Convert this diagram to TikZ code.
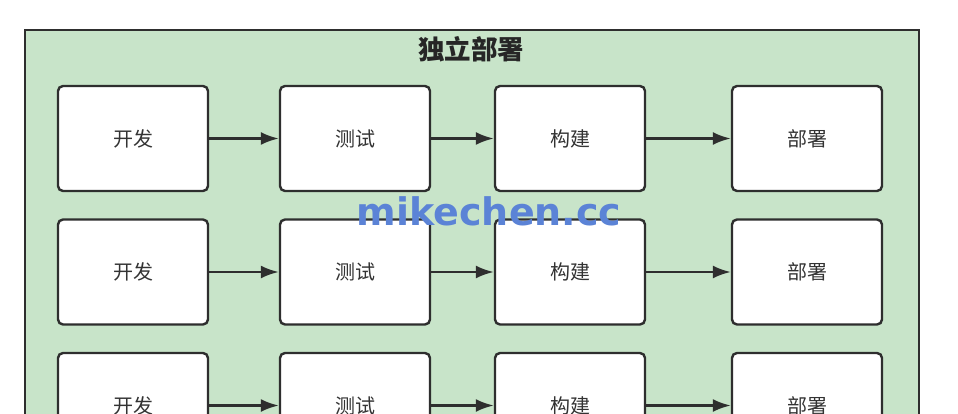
\documentclass[tikz,border=0pt]{standalone}
\usepackage{fontspec}
\usepackage{tikz}
\usetikzlibrary{arrows.meta}
\newfontfamily\cjk{Noto Sans CJK SC}
\newfontfamily\markfont{DejaVu Sans}
\definecolor{groupgreen}{HTML}{C8E4C9}
\definecolor{edgegray}{HTML}{2E2E2E}
\definecolor{markblue}{HTML}{5B83D6}
\tikzset{>={Latex[width=13pt,length=18pt]}}
\tikzset{
  stage/.style={draw=edgegray, line width=2.4pt, rounded corners=5pt, fill=white,
    minimum width=150pt, minimum height=105pt, inner sep=0pt,
    font=\cjk\fontsize{20}{20}\selectfont, text=black!80},
  flow/.style={-{Latex[width=13pt,length=18pt]}, draw=edgegray, line width=2.4pt}
}

\begin{document}
\begin{tikzpicture}[x=1pt, y=-1pt]
  \clip (0,0) rectangle (958,414);

  \newcommand\CA{133};
  \newcommand\CB{355};
  \newcommand\CC{570};
  \newcommand\CD{807};
  \newcommand\RY{133.5};

  \draw[edgegray, line width=2.4pt, fill=groupgreen](25,30) rectangle (919,470);
  \node[font=\cjk\bfseries\fontsize{26.5}{26.5}\selectfont, text=black!85] (title) at (471,49) {独立部署};

  \node[stage] (dev1)    at (\CA, 138.5) {开发};
  \node[stage] (test1)   at (\CB, 138.5) {测试};
  \node[stage] (build1)  at (\CC, 138.5) {构建};
  \node[stage] (deploy1) at (\CD, 138.5) {部署};

  \node[stage] (dev2)    at (\CA, 138.5+\RY) {开发};
  \node[stage] (test2)   at (\CB, 138.5+\RY) {测试};
  \node[stage] (build2)  at (\CC, 138.5+\RY) {构建};
  \node[stage] (deploy2) at (\CD, 138.5+\RY) {部署};

  \node[stage] (dev3)    at (\CA, 138.5+2*\RY) {开发};
  \node[stage] (test3)   at (\CB, 138.5+2*\RY) {测试};
  \node[stage] (build3)  at (\CC, 138.5+2*\RY) {构建};
  \node[stage] (deploy3) at (\CD, 138.5+2*\RY) {部署};

  \draw[flow](dev1)--(test1);
  \draw[flow](test1)--(build1);
  \draw[flow](build1)--(deploy1);
  \draw[flow](dev2)--(test2);
  \draw[flow](test2)--(build2);
  \draw[flow](build2)--(deploy2);
  \draw[flow](dev3)--(test3);
  \draw[flow](test3)--(build3);
  \draw[flow](build3)--(deploy3);

  \node[font=\markfont\bfseries\fontsize{38}{38}\selectfont, text=markblue] (mark) at (489,211) {mikechen.cc};
\end{tikzpicture}
\end{document}
